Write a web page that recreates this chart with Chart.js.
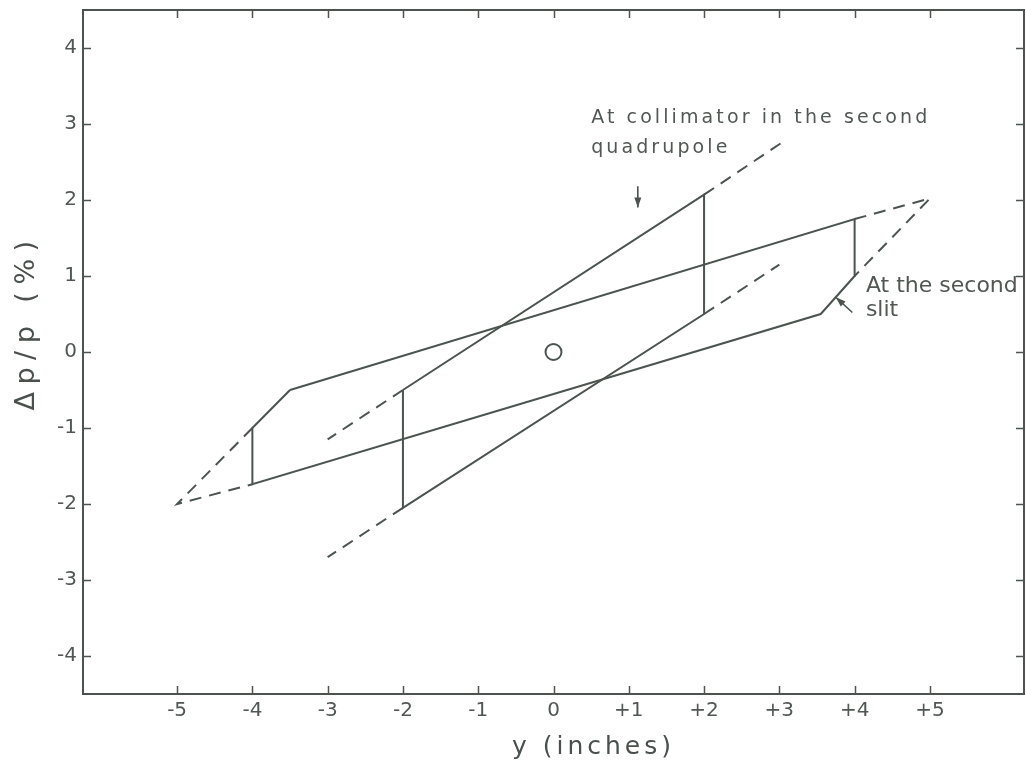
<!DOCTYPE html>
<html>
<head>
<meta charset="utf-8">
<script src="https://cdn.jsdelivr.net/npm/chart.js@4/dist/chart.umd.min.js"></script>
<style>
  html, body { margin: 0; padding: 0; background: #ffffff; }
  canvas { display: block; }
</style>
</head>
<body>
<canvas id="c" width="1026" height="767"></canvas>
<script>
// Axis ticks: transverse position y (inches) and momentum spread Δp/p (%)
const xTickValues = [-5, -4, -3, -2, -1, 0, 1, 2, 3, 4, 5];
const xTickLabels = ['-5', '-4', '-3', '-2', '-1', '0', '+1', '+2', '+3', '+4', '+5'];
const yTickValues = [-4, -3, -2, -1, 0, 1, 2, 3, 4];
const yTickLabels = ['-4', '-3', '-2', '-1', '0', '1', '2', '3', '4'];

// Acceptance window at the collimator in the second quadrupole
const collimatorY  = [-2, 2, 2, -2, -2];
const collimatorDp = [-0.5, 2.07, 0.5, -2.05, -0.5];
// Its sloping edges continued beyond the window
const collUpperRightY  = [2, 3.1];
const collUpperRightDp = [2.07, 2.8];
const collLowerRightY  = [2, 3.0];
const collLowerRightDp = [0.5, 1.15];
const collUpperLeftY   = [-2, -3.0];
const collUpperLeftDp  = [-0.5, -1.15];
const collLowerLeftY   = [-2, -3.0];
const collLowerLeftDp  = [-2.05, -2.7];

// Acceptance window at the second slit
const slitY  = [-3.5, 4, 4, 3.55, -4, -4, -3.5];
const slitDp = [-0.5, 1.75, 1.0, 0.5, -1.74, -1.0, -0.5];
// Clipped corners of the slit window
const slitLeftTipY   = [-4, -5, -4];
const slitLeftTipDp  = [-1.0, -2.0, -1.74];
const slitRightTipY  = [4, 5, 4];
const slitRightTipDp = [1.75, 2.02, 1.0];

// Central ray
const centreY  = [0];
const centreDp = [0];

// Pointer arrows (tail -> head)
const collArrowY  = [1.12, 1.12];
const collArrowDp = [2.18, 1.90];
const slitArrowY  = [3.97, 3.75];
const slitArrowDp = [0.52, 0.72];

const INK = '#4c544f';
const TEXT = '#515753';
const FONT = '"DejaVu Sans", sans-serif';

function pts(xs, ys) { return xs.map((x, i) => ({ x: x, y: ys[i] })); }
function path(xs, ys, dashed) {
  return {
    data: pts(xs, ys),
    showLine: true,
    borderColor: INK,
    borderWidth: 2,
    borderDash: dashed ? [12, 8] : [],
    borderJoinStyle: 'miter',
    pointRadius: 0,
    fill: false,
    tension: 0
  };
}
function arrow(xs, ys) {
  const d = path(xs, ys, false);
  d.borderWidth = 1.6;
  d.arrowHead = true;
  return d;
}

// Annotation text, anchored in data coordinates (left edge, baseline)
const notes = [
  { text: 'At collimator in the second', at: [0.50, 3.01], size: 19, spacing: 3.1 },
  { text: 'quadrupole',                  at: [0.50, 2.62], size: 19, spacing: 3.1 },
  { text: 'At the second',               at: [4.15, 0.79], size: 22, spacing: 0 },
  { text: 'slit',                        at: [4.15, 0.48], size: 22, spacing: 0 }
];

const framePlugin = {
  id: 'frameAndText',
  afterDatasetsDraw(chart) {
    const ctx = chart.ctx;
    const a = chart.chartArea;
    const xs = chart.scales.x, ys = chart.scales.y;
    ctx.save();

    // arrow heads
    chart.data.datasets.forEach((ds, i) => {
      if (!ds.arrowHead) return;
      const m = chart.getDatasetMeta(i).data;
      const p0 = m[0], p1 = m[m.length - 1];
      const ang = Math.atan2(p1.y - p0.y, p1.x - p0.x);
      const L = 10, W = 3.5;
      ctx.fillStyle = INK;
      ctx.beginPath();
      ctx.moveTo(p1.x, p1.y);
      ctx.lineTo(p1.x - L * Math.cos(ang) + W * Math.sin(ang), p1.y - L * Math.sin(ang) - W * Math.cos(ang));
      ctx.lineTo(p1.x - L * Math.cos(ang) - W * Math.sin(ang), p1.y - L * Math.sin(ang) + W * Math.cos(ang));
      ctx.closePath();
      ctx.fill();
    });

    // frame with inward ticks on all four sides
    ctx.strokeStyle = INK;
    ctx.lineWidth = 2;
    ctx.setLineDash([]);
    ctx.strokeRect(a.left, a.top, a.right - a.left, a.bottom - a.top);
    ctx.lineWidth = 1.5;
    const T = 8;
    ctx.beginPath();
    xTickValues.forEach(v => {
      const px = Math.round(xs.getPixelForValue(v)) + 0.5;
      ctx.moveTo(px, a.bottom); ctx.lineTo(px, a.bottom - T);
      ctx.moveTo(px, a.top);    ctx.lineTo(px, a.top + T);
    });
    yTickValues.forEach(v => {
      const py = Math.round(ys.getPixelForValue(v)) + 0.5;
      ctx.moveTo(a.left, py);  ctx.lineTo(a.left + T, py);
      ctx.moveTo(a.right, py); ctx.lineTo(a.right - T, py);
    });
    ctx.stroke();

    // notes
    ctx.fillStyle = TEXT;
    ctx.textAlign = 'left';
    ctx.textBaseline = 'alphabetic';
    notes.forEach(n => {
      ctx.font = n.size + 'px ' + FONT;
      ctx.letterSpacing = n.spacing + 'px';
      ctx.fillText(n.text, xs.getPixelForValue(n.at[0]), ys.getPixelForValue(n.at[1]));
    });

    // axis titles
    ctx.fillStyle = '#4a504c';
    ctx.textAlign = 'center';
    ctx.textBaseline = 'middle';
    ctx.font = '25px ' + FONT;
    ctx.letterSpacing = '4px';
    ctx.fillText('y (inches)', (a.left + a.right) / 2 + 40, 747);

    ctx.save();
    ctx.translate(27, (a.top + a.bottom) / 2 - 30);
    ctx.rotate(-Math.PI / 2);
    ctx.font = '27px ' + FONT;
    ctx.letterSpacing = '7.5px';
    ctx.fillText('\u0394p/p (%)', 0, 0);
    ctx.restore();

    ctx.restore();
  }
};

new Chart(document.getElementById('c'), {
  type: 'scatter',
  data: {
    datasets: [
      path(slitY, slitDp, false),
      path(slitLeftTipY, slitLeftTipDp, true),
      path(slitRightTipY, slitRightTipDp, true),
      path(collimatorY, collimatorDp, false),
      path(collUpperRightY, collUpperRightDp, true),
      path(collLowerRightY, collLowerRightDp, true),
      path(collUpperLeftY, collUpperLeftDp, true),
      path(collLowerLeftY, collLowerLeftDp, true),
      {
        data: pts(centreY, centreDp),
        showLine: false,
        pointRadius: 8,
        pointBorderWidth: 2,
        pointBorderColor: INK,
        pointBackgroundColor: 'rgba(0,0,0,0)'
      },
      arrow(collArrowY, collArrowDp),
      arrow(slitArrowY, slitArrowDp)
    ]
  },
  options: {
    responsive: false,
    devicePixelRatio: 1,
    animation: false,
    layout: { autoPadding: false, padding: { top: 10, right: 2, left: 0, bottom: 0 } },
    plugins: { legend: { display: false }, tooltip: { enabled: false } },
    scales: {
      x: {
        type: 'linear',
        min: -6.25,
        max: 6.25,
        afterBuildTicks: s => { s.ticks = xTickValues.map(v => ({ value: v })); },
        afterFit: s => { s.height = 73; s.paddingLeft = 0; s.paddingRight = 0; },
        grid: { display: false, drawTicks: false },
        border: { display: false },
        ticks: {
          padding: 5,
          color: TEXT,
          font: { family: FONT, size: 20 },
          autoSkip: false,
          maxRotation: 0,
          callback: v => xTickLabels[xTickValues.indexOf(v)]
        }
      },
      y: {
        type: 'linear',
        min: -4.5,
        max: 4.5,
        afterBuildTicks: s => { s.ticks = yTickValues.map(v => ({ value: v })); },
        afterFit: s => { s.width = 83; s.paddingTop = 0; s.paddingBottom = 0; },
        grid: { display: false, drawTicks: false },
        border: { display: false },
        ticks: {
          padding: 6,
          color: TEXT,
          font: { family: FONT, size: 20 },
          autoSkip: false,
          callback: v => yTickLabels[yTickValues.indexOf(v)]
        }
      }
    }
  },
  plugins: [framePlugin]
});
</script>
</body>
</html>
